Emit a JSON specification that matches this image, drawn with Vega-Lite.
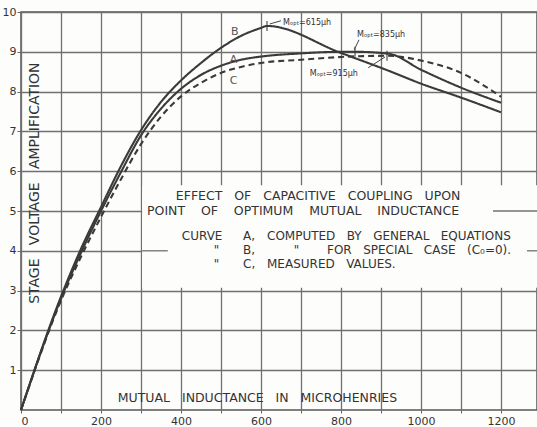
{
  "$schema": "https://vega.github.io/schema/vega-lite/v6.json",
  "width": 516,
  "height": 398,
  "autosize": {"type": "none"},
  "padding": {"left": 21, "top": 12, "right": 0, "bottom": 17},
  "background": "#fdfdfc",
  "config": {
    "view": {"stroke": "#555555", "strokeWidth": 1.5},
    "font": "DejaVu Sans",
    "axis": {"labelFont": "DejaVu Sans", "labelColor": "#333333", "labelFontSize": 11, "title": null, "domain": false, "gridColor": "#707070", "gridWidth": 1.3, "gridOpacity": 1, "tickColor": "#666666", "labelOverlap": false},
    "axisY": {"labelOverlap": false},
    "axisQuantitative": {"labelOverlap": false}
  },
  "datasets": {
    "curves": [
      {"M": 0, "V": 0, "curve": "A"}, {"M": 100, "V": 2.8, "curve": "A"}, {"M": 150, "V": 3.95, "curve": "A"}, {"M": 200, "V": 5.0, "curve": "A"}, {"M": 250, "V": 5.98, "curve": "A"}, {"M": 300, "V": 6.9, "curve": "A"}, {"M": 350, "V": 7.57, "curve": "A"}, {"M": 400, "V": 8.07, "curve": "A"}, {"M": 450, "V": 8.42, "curve": "A"}, {"M": 500, "V": 8.65, "curve": "A"}, {"M": 550, "V": 8.8, "curve": "A"}, {"M": 600, "V": 8.88, "curve": "A"}, {"M": 700, "V": 8.96, "curve": "A"}, {"M": 800, "V": 9.0, "curve": "A"}, {"M": 835, "V": 9.0, "curve": "A"}, {"M": 920, "V": 8.95, "curve": "A"}, {"M": 1000, "V": 8.55, "curve": "A"}, {"M": 1100, "V": 8.1, "curve": "A"}, {"M": 1200, "V": 7.72, "curve": "A"},
      {"M": 0, "V": 0, "curve": "B"}, {"M": 100, "V": 2.85, "curve": "B"}, {"M": 150, "V": 4.05, "curve": "B"}, {"M": 200, "V": 5.1, "curve": "B"}, {"M": 250, "V": 6.13, "curve": "B"}, {"M": 300, "V": 7.03, "curve": "B"}, {"M": 350, "V": 7.74, "curve": "B"}, {"M": 400, "V": 8.28, "curve": "B"}, {"M": 450, "V": 8.72, "curve": "B"}, {"M": 500, "V": 9.1, "curve": "B"}, {"M": 550, "V": 9.4, "curve": "B"}, {"M": 600, "V": 9.6, "curve": "B"}, {"M": 615, "V": 9.65, "curve": "B"}, {"M": 800, "V": 8.97, "curve": "B"}, {"M": 920, "V": 8.52, "curve": "B"}, {"M": 1000, "V": 8.2, "curve": "B"}, {"M": 1100, "V": 7.85, "curve": "B"}, {"M": 1200, "V": 7.48, "curve": "B"},
      {"M": 0, "V": 0, "curve": "C"}, {"M": 100, "V": 2.75, "curve": "C"}, {"M": 150, "V": 3.85, "curve": "C"}, {"M": 200, "V": 4.85, "curve": "C"}, {"M": 250, "V": 5.8, "curve": "C"}, {"M": 300, "V": 6.68, "curve": "C"}, {"M": 350, "V": 7.37, "curve": "C"}, {"M": 400, "V": 7.88, "curve": "C"}, {"M": 450, "V": 8.22, "curve": "C"}, {"M": 500, "V": 8.47, "curve": "C"}, {"M": 550, "V": 8.62, "curve": "C"}, {"M": 600, "V": 8.72, "curve": "C"}, {"M": 700, "V": 8.8, "curve": "C"}, {"M": 800, "V": 8.87, "curve": "C"}, {"M": 915, "V": 8.9, "curve": "C"}, {"M": 1000, "V": 8.78, "curve": "C"}, {"M": 1100, "V": 8.47, "curve": "C"}, {"M": 1200, "V": 7.87, "curve": "C"}
    ],
    "peaks": [
      {"M": 615, "V": 9.65}, {"M": 835, "V": 9.0}, {"M": 915, "V": 8.9}
    ],
    "blank": [{"x": 303, "x2": 1290, "y": 3.07, "y2": 5.65}],
    "gridbits": [
      {"x": 303, "x2": 367, "y": 4, "y2": 4},
      {"x": 1180, "x2": 1290, "y": 5, "y2": 5},
      {"x": 1265, "x2": 1290, "y": 4, "y2": 4}
    ],
    "leaders": [
      {"x": 622, "x2": 650, "y": 9.7, "y2": 9.78},
      {"x": 845, "x2": 833, "y": 9.3, "y2": 9.05},
      {"x": 868, "x2": 910, "y": 8.6, "y2": 8.87}
    ],
    "curvenames": [
      {"x": 525, "y": 9.5, "t": "B"}, {"x": 522, "y": 8.8, "t": "A"}, {"x": 522, "y": 8.27, "t": "C"}
    ],
    "mopt": [
      {"x": 655, "y": 9.72, "t": "Mₒₚₜ=615µh"},
      {"x": 840, "y": 9.43, "t": "Mₒₚₜ=835µh"},
      {"x": 722, "y": 8.45, "t": "Mₒₚₜ=915µh"}
    ],
    "titles": [
      {"x": 387, "y": 5.38, "t": "EFFECT \u00a0\u00a0OF \u00a0\u00a0CAPACITIVE \u00a0\u00a0COUPLING \u00a0\u00a0UPON"},
      {"x": 315, "y": 5.0, "t": "POINT \u00a0\u00a0\u00a0OF \u00a0\u00a0\u00a0OPTIMUM \u00a0\u00a0\u00a0MUTUAL \u00a0\u00a0\u00a0INDUCTANCE"}
    ],
    "legend": [
      {"x": 402, "y": 4.37, "t": "CURVE"}, {"x": 555, "y": 4.37, "t": "A,"}, {"x": 615, "y": 4.37, "t": "COMPUTED \u00a0\u00a0BY \u00a0\u00a0GENERAL \u00a0\u00a0EQUATIONS"},
      {"x": 482, "y": 4.02, "t": "\""}, {"x": 555, "y": 4.02, "t": "B,"}, {"x": 682, "y": 4.02, "t": "\""}, {"x": 765, "y": 4.02, "t": "FOR \u00a0\u00a0SPECIAL \u00a0\u00a0CASE \u00a0\u00a0(C₀=0)."},
      {"x": 482, "y": 3.67, "t": "\""}, {"x": 555, "y": 3.67, "t": "C,"}, {"x": 615, "y": 3.67, "t": "MEASURED \u00a0\u00a0VALUES."}
    ],
    "xtitle": [{"x": 242, "y": 0.3, "t": "MUTUAL \u00a0\u00a0INDUCTANCE \u00a0\u00a0IN \u00a0\u00a0MICROHENRIES"}],
    "ytitle": [{"x": 35, "y": 5.7, "t": "STAGE \u00a0\u00a0VOLTAGE \u00a0\u00a0AMPLIFICATION"}]
  },
  "layer": [
    {
      "data": {"name": "blank"},
      "mark": {"type": "rect", "fill": "#fdfdfc", "stroke": null},
      "encoding": {
        "x": {"field": "x", "type": "quantitative", "scale": {"domain": [0, 1290], "nice": false, "zero": false},
          "axis": {"values": [0, 100, 200, 300, 400, 500, 600, 700, 800, 900, 1000, 1100, 1200], "format": "d", "labelExpr": "datum.value % 200 == 0 ? datum.label : ''", "tickSize": 3, "labelPadding": 2, "grid": true, "labelOverlap": false}},
        "x2": {"field": "x2"},
        "y": {"field": "y", "type": "quantitative", "scale": {"domain": [0, 10], "nice": false},
          "axis": {"values": [1, 2, 3, 4, 5, 6, 7, 8, 9, 10], "tickSize": 4, "labelPadding": 1, "grid": true, "labelOverlap": false, "labelSeparation": 0, "labelFlush": false}},
        "y2": {"field": "y2"}
      }
    },
    {
      "data": {"name": "gridbits"},
      "mark": {"type": "rule", "color": "#707070", "strokeWidth": 1.3},
      "encoding": {
        "x": {"field": "x", "type": "quantitative"}, "x2": {"field": "x2"},
        "y": {"field": "y", "type": "quantitative"}, "y2": {"field": "y2"}
      }
    },
    {
      "data": {"name": "curves"},
      "mark": {"type": "line", "interpolate": "monotone", "strokeWidth": 2.1, "color": "#3a3a3a"},
      "encoding": {
        "x": {"field": "M", "type": "quantitative"},
        "y": {"field": "V", "type": "quantitative"},
        "detail": {"field": "curve"},
        "strokeDash": {"field": "curve", "type": "nominal", "scale": {"domain": ["A", "B", "C"], "range": [[1, 0], [1, 0], [6, 4]]}, "legend": null}
      }
    },
    {
      "data": {"name": "peaks"},
      "mark": {"type": "tick", "orient": "vertical", "size": 10, "thickness": 1.5, "color": "#3a3a3a"},
      "encoding": {"x": {"field": "M", "type": "quantitative"}, "y": {"field": "V", "type": "quantitative"}}
    },
    {
      "data": {"name": "leaders"},
      "mark": {"type": "rule", "color": "#444444", "strokeWidth": 1},
      "encoding": {
        "x": {"field": "x", "type": "quantitative"}, "x2": {"field": "x2"},
        "y": {"field": "y", "type": "quantitative"}, "y2": {"field": "y2"}
      }
    },
    {
      "data": {"name": "curvenames"},
      "mark": {"type": "text", "fontSize": 11, "color": "#555555", "align": "left", "baseline": "middle"},
      "encoding": {"x": {"field": "x", "type": "quantitative"}, "y": {"field": "y", "type": "quantitative"}, "text": {"field": "t"}}
    },
    {
      "data": {"name": "mopt"},
      "mark": {"type": "text", "fontSize": 8, "color": "#333333", "align": "left", "baseline": "middle"},
      "encoding": {"x": {"field": "x", "type": "quantitative"}, "y": {"field": "y", "type": "quantitative"}, "text": {"field": "t"}}
    },
    {
      "data": {"name": "titles"},
      "mark": {"type": "text", "fontSize": 12.5, "color": "#333333", "align": "left", "baseline": "middle"},
      "encoding": {"x": {"field": "x", "type": "quantitative"}, "y": {"field": "y", "type": "quantitative"}, "text": {"field": "t"}}
    },
    {
      "data": {"name": "legend"},
      "mark": {"type": "text", "fontSize": 12, "color": "#333333", "align": "left", "baseline": "middle"},
      "encoding": {"x": {"field": "x", "type": "quantitative"}, "y": {"field": "y", "type": "quantitative"}, "text": {"field": "t"}}
    },
    {
      "data": {"name": "xtitle"},
      "mark": {"type": "text", "fontSize": 12.5, "color": "#333333", "align": "left", "baseline": "middle"},
      "encoding": {"x": {"field": "x", "type": "quantitative"}, "y": {"field": "y", "type": "quantitative"}, "text": {"field": "t"}}
    },
    {
      "data": {"name": "ytitle"},
      "mark": {"type": "text", "fontSize": 14, "color": "#333333", "align": "center", "baseline": "middle", "angle": 270},
      "encoding": {"x": {"field": "x", "type": "quantitative"}, "y": {"field": "y", "type": "quantitative"}, "text": {"field": "t"}}
    }
  ]
}
